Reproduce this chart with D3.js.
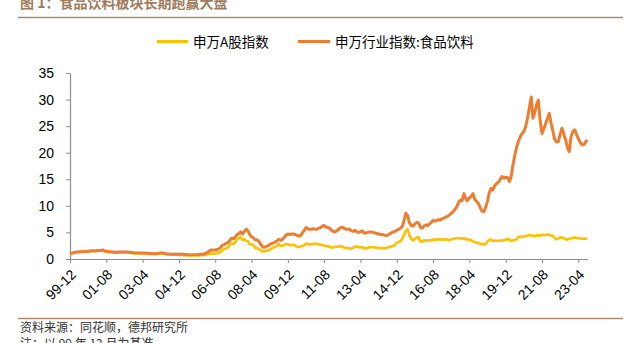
<!DOCTYPE html>
<html>
<head>
<meta charset="utf-8">
<script src="https://cdn.jsdelivr.net/npm/d3@7"></script>
<style>
  html, body { margin: 0; padding: 0; background: #fff; }
  svg { display: block; }
</style>
</head>
<body>
<svg id="chart" width="628" height="343"></svg>
<script>
// Monthly closes, normalised to Dec 1999 = 1, from 1999-12 to 2023-09
const startMonth = "99-12";
const seriesNames = ["申万A股指数", "申万行业指数:食品饮料"];
const xTickLabels = ["99-12", "01-08", "03-04", "04-12", "06-08", "08-04", "09-12",
  "11-08", "13-04", "14-12", "16-08", "18-04", "19-12", "21-08", "23-04"];
const yTicks = [0, 5, 10, 15, 20, 25, 30, 35];

const swA = [
  1.00,
  1.05, 1.15, 1.25, 1.28, 1.30, 1.35, 1.40, 1.42, 1.38, 1.40, 1.48, 1.50, // 2000
  1.50, 1.45, 1.52, 1.58, 1.62, 1.65, 1.48, 1.40, 1.32, 1.28, 1.28, 1.22, // 2001
  1.18, 1.20, 1.22, 1.25, 1.22, 1.30, 1.25, 1.22, 1.18, 1.14, 1.10, 1.05, // 2002
  1.08, 1.08, 1.05, 1.08, 1.10, 1.02, 0.98, 0.95, 0.92, 0.90, 0.90, 0.95, // 2003
  1.00, 1.05, 1.08, 0.98, 0.92, 0.85, 0.85, 0.82, 0.85, 0.80, 0.80, 0.75, // 2004
  0.75, 0.78, 0.72, 0.70, 0.66, 0.68, 0.67, 0.70, 0.70, 0.66, 0.66, 0.70, // 2005
  0.75, 0.78, 0.80, 0.88, 1.00, 1.05, 1.00, 1.02, 1.08, 1.15, 1.35, 1.65, // 2006
  1.90, 2.00, 2.15, 2.60, 2.95, 2.80, 3.10, 3.70, 3.90, 4.10, 3.60, 3.70, // 2007
  3.40, 3.35, 2.80, 2.75, 2.65, 2.10, 2.10, 1.85, 1.70, 1.40, 1.45, 1.50, // 2008
  1.65, 1.75, 2.00, 2.15, 2.25, 2.50, 2.85, 2.45, 2.50, 2.65, 2.80, 2.80, // 2009
  2.60, 2.65, 2.70, 2.55, 2.30, 2.20, 2.35, 2.50, 2.55, 2.90, 2.85, 2.75, // 2010
  2.75, 2.85, 2.90, 2.85, 2.70, 2.70, 2.65, 2.55, 2.40, 2.40, 2.35, 2.15, // 2011
  2.15, 2.30, 2.30, 2.35, 2.40, 2.30, 2.15, 2.05, 2.05, 2.00, 1.95, 2.15, // 2012
  2.30, 2.35, 2.20, 2.15, 2.25, 2.00, 2.00, 2.10, 2.20, 2.20, 2.20, 2.15, // 2013
  2.10, 2.10, 2.05, 2.05, 2.05, 2.05, 2.15, 2.25, 2.35, 2.45, 2.65, 3.10, // 2014
  3.20, 3.35, 3.80, 4.50, 5.30, 5.60, 4.40, 3.80, 3.50, 3.80, 4.00, 4.10, // 2015
  3.30, 3.25, 3.50, 3.50, 3.45, 3.50, 3.55, 3.65, 3.60, 3.65, 3.75, 3.65, // 2016
  3.65, 3.70, 3.70, 3.60, 3.55, 3.70, 3.75, 3.85, 3.90, 3.95, 3.85, 3.80, // 2017
  3.95, 3.70, 3.70, 3.60, 3.55, 3.30, 3.20, 3.05, 3.05, 2.80, 2.85, 2.70, // 2018
  2.90, 3.30, 3.65, 3.65, 3.40, 3.45, 3.45, 3.40, 3.50, 3.50, 3.45, 3.65, // 2019
  3.70, 3.65, 3.40, 3.50, 3.55, 3.70, 4.20, 4.25, 4.15, 4.25, 4.35, 4.40, // 2020
  4.50, 4.45, 4.30, 4.35, 4.45, 4.45, 4.40, 4.50, 4.55, 4.50, 4.60, 4.60, // 2021
  4.40, 4.35, 3.95, 3.70, 3.85, 4.10, 4.05, 3.95, 3.70, 3.65, 3.80, 3.85, // 2022
  4.00, 4.05, 3.95, 3.95, 3.85, 3.80, 3.85, 3.80, 3.75                    // 2023
];

const swFood = [
  1.00,
  1.10, 1.20, 1.28, 1.32, 1.35, 1.38, 1.42, 1.45, 1.40, 1.45, 1.52, 1.55, // 2000
  1.55, 1.50, 1.58, 1.62, 1.65, 1.70, 1.55, 1.45, 1.40, 1.35, 1.35, 1.28, // 2001
  1.25, 1.28, 1.30, 1.32, 1.30, 1.38, 1.32, 1.30, 1.25, 1.22, 1.18, 1.15, // 2002
  1.15, 1.15, 1.13, 1.13, 1.15, 1.10, 1.08, 1.05, 1.03, 1.02, 1.00, 1.02, // 2003
  1.08, 1.12, 1.15, 1.05, 1.00, 0.95, 0.92, 0.90, 0.95, 0.90, 0.92, 0.88, // 2004
  0.88, 0.92, 0.86, 0.84, 0.80, 0.82, 0.80, 0.82, 0.82, 0.80, 0.85, 0.88, // 2005
  0.90, 1.00, 1.10, 1.30, 1.60, 1.70, 1.70, 1.70, 1.80, 1.90, 2.20, 2.60, // 2006
  2.70, 2.95, 3.10, 3.50, 3.90, 3.80, 4.10, 4.60, 4.80, 5.10, 4.70, 5.20, // 2007
  5.60, 5.30, 4.60, 4.20, 4.00, 3.60, 3.60, 3.30, 2.80, 2.30, 2.20, 2.30, // 2008
  2.50, 2.70, 2.90, 3.00, 3.20, 3.40, 3.70, 3.50, 3.70, 4.10, 4.50, 4.70, // 2009
  4.60, 4.70, 4.70, 4.60, 4.50, 4.30, 4.40, 4.90, 5.40, 5.90, 5.70, 5.60, // 2010
  5.60, 5.70, 5.60, 5.60, 5.80, 5.90, 6.20, 6.30, 6.00, 5.90, 5.80, 5.40, // 2011
  5.20, 5.10, 5.30, 5.60, 5.90, 6.00, 5.80, 5.60, 5.60, 5.60, 5.30, 5.20, // 2012
  5.40, 5.10, 5.00, 5.10, 5.30, 4.90, 4.90, 5.00, 5.10, 5.10, 5.00, 4.90, // 2013
  4.80, 4.70, 4.60, 4.60, 4.50, 4.40, 4.50, 4.70, 4.90, 5.10, 5.20, 5.40, // 2014
  5.60, 5.80, 6.10, 7.20, 8.60, 8.20, 6.80, 6.30, 6.20, 6.60, 6.90, 6.80, // 2015
  6.00, 5.80, 6.20, 6.40, 6.30, 6.60, 6.90, 7.30, 7.10, 7.30, 7.40, 7.30, // 2016
  7.60, 7.70, 7.90, 8.00, 8.30, 8.60, 8.90, 9.30, 9.80, 10.6, 11.1, 11.0, // 2017
  12.3, 11.3, 11.0, 11.5, 11.8, 12.3, 11.2, 10.8, 10.4, 9.60, 9.00, 8.90, // 2018
  9.80, 11.0, 12.5, 13.3, 13.0, 13.8, 14.2, 14.5, 15.0, 15.5, 15.2, 15.4, // 2019
  15.3, 14.6, 15.5, 17.7, 19.5, 21.0, 22.1, 23.0, 23.6, 24.0, 25.0, 26.5, // 2020
  28.5, 30.5, 26.5, 27.5, 29.0, 29.9, 26.0, 23.6, 24.5, 25.5, 26.5, 27.4, // 2021
  25.5, 24.0, 22.5, 22.0, 22.1, 23.5, 24.6, 23.5, 22.4, 21.0, 20.2, 23.0, // 2022
  24.0, 24.3, 23.5, 22.7, 22.0, 21.5, 21.5, 22.0, 22.4                    // 2023
];

const colors = ["#FFC000", "#ED7D31"];

const svg = d3.select("#chart");
const fontCJK = "'Noto Sans CJK SC', 'Noto Sans', sans-serif";
const fontNum = "'Liberation Sans', Arial, sans-serif";

// Heading and rules
svg.append("text")
  .attr("x", 20).attr("y", 7.5)
  .attr("font-family", fontCJK).attr("font-size", 14).attr("font-weight", "bold")
  .attr("fill", "#A07C5C")
  .text("图 1：食品饮料板块长期跑赢大盘");
svg.append("line").attr("x1", 18).attr("x2", 623).attr("y1", 17.5).attr("y2", 17.5)
  .attr("stroke", "#B08A6A").attr("stroke-width", 1.5);
svg.append("line").attr("x1", 18).attr("x2", 623).attr("y1", 318.5).attr("y2", 318.5)
  .attr("stroke", "#B08A6A").attr("stroke-width", 1.5);

// Footnotes
svg.append("text").attr("x", 20).attr("y", 332)
  .attr("font-family", fontCJK).attr("font-size", 12).attr("fill", "#333")
  .text("资料来源：同花顺，德邦研究所");
svg.append("text").attr("x", 20).attr("y", 347.5)
  .attr("font-family", fontCJK).attr("font-size", 12).attr("fill", "#333")
  .text("注：以 99 年 12 月为基准");

// Scales
const parseMonth = d3.timeParse("%y-%m");
const t0 = parseMonth(startMonth);
const dates = swA.map((_, i) => d3.timeMonth.offset(t0, i));
const tEnd = d3.timeMonth.offset(t0, 285);

const x = d3.scaleTime().domain([t0, tEnd]).range([70, 587.4]);
const y = d3.scaleLinear().domain([0, 35]).range([259, 73]);

// Axes
const axisColor = "#8C8C8C";
const yAxis = svg.append("g").attr("transform", "translate(70,0)")
  .call(d3.axisLeft(y).tickValues(yTicks).tickSize(4).tickPadding(12).tickSizeOuter(0));
yAxis.select(".domain").attr("stroke", axisColor).attr("stroke-width", 1.2);
yAxis.selectAll(".tick line").attr("stroke", axisColor);
yAxis.selectAll("text").attr("font-family", fontNum).attr("font-size", 14).attr("fill", "#000");

const xAxis = svg.append("g").attr("transform", "translate(0,259)")
  .call(d3.axisBottom(x).tickValues(xTickLabels.map(parseMonth))
    .tickFormat(d3.timeFormat("%y-%m")).tickSize(4).tickSizeOuter(0));
xAxis.select(".domain").attr("stroke", axisColor).attr("stroke-width", 1.2);
xAxis.selectAll(".tick line").attr("stroke", axisColor);
xAxis.selectAll("text")
  .attr("font-family", fontNum).attr("font-size", 14).attr("fill", "#000")
  .attr("x", 0).attr("y", 0).attr("dy", "0.35em")
  .attr("text-anchor", "end")
  .attr("transform", "translate(3,13) rotate(-45)");

// Lines
const line = d3.line()
  .x((d, i) => x(dates[i]))
  .y(d => y(d))
  .curve(d3.curveLinear);

[swA, swFood].forEach((s, k) => {
  svg.append("path")
    .datum(s)
    .attr("fill", "none")
    .attr("stroke", colors[k])
    .attr("stroke-width", k === 1 ? 3 : 2.6)
    .attr("stroke-linejoin", "round")
    .attr("d", line);
});

// Legend
const legendItems = [
  { x1: 157, x2: 188, tx: 193 },
  { x1: 298, x2: 330, tx: 335 }
];
legendItems.forEach((it, k) => {
  svg.append("line").attr("x1", it.x1).attr("x2", it.x2).attr("y1", 41.5).attr("y2", 41.5)
    .attr("stroke", colors[k]).attr("stroke-width", 3);
  svg.append("text").attr("x", it.tx).attr("y", 46.5)
    .attr("font-family", fontCJK).attr("font-size", 13.5).attr("fill", "#000")
    .text(seriesNames[k]);
});
</script>
</body>
</html>
